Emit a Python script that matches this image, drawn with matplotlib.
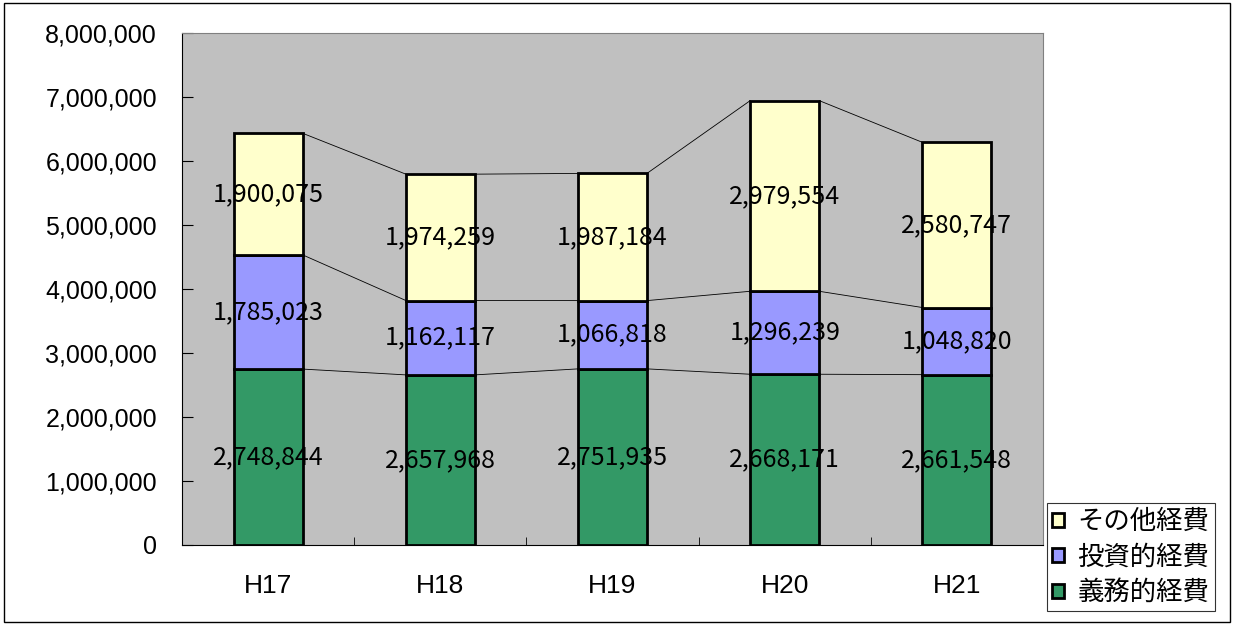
import numpy as np
import matplotlib.pyplot as plt
from matplotlib.patches import Rectangle
from matplotlib.ticker import FuncFormatter, MultipleLocator

plt.rcParams['font.family'] = ['Noto Sans CJK JP', 'DejaVu Sans']

years = ['H17', 'H18', 'H19', 'H20', 'H21']
gimu = [2748844, 2657968, 2751935, 2668171, 2661548]      # 義務的経費
toshi = [1785023, 1162117, 1066818, 1296239, 1048820]     # 投資的経費
sonota = [1900075, 1974259, 1987184, 2979554, 2580747]    # その他経費

series = [('義務的経費', gimu, '#339966'),
          ('投資的経費', toshi, '#9999FF'),
          ('その他経費', sonota, '#FFFFCC')]

fig = plt.figure(figsize=(12.34, 6.25), dpi=100)
ax = fig.add_axes([182 / 1234, 80 / 625, 861 / 1234, 512 / 625])
ax.set_facecolor('#C0C0C0')

x = np.arange(len(years))
w = 0.4
bottom = np.zeros(len(years))
handles = []
for name, vals, col in series:
    vals = np.array(vals)
    bars = ax.bar(x, vals, w, bottom=bottom, color=col, edgecolor='black',
                  linewidth=2, zorder=3, label=name)
    handles.append(bars)
    top = bottom + vals
    # thin series lines joining the bar tops
    for i in range(len(x) - 1):
        ax.plot([x[i] + w / 2, x[i + 1] - w / 2], [top[i], top[i + 1]],
                color='black', linewidth=0.6, zorder=2)
    for i in range(len(x)):
        ax.text(x[i], bottom[i] + vals[i] / 2, f'{vals[i]:,}', ha='center',
                va='center', fontsize=18, zorder=4)
    bottom = top

ax.set_xlim(-0.5, len(years) - 0.5)
ax.set_ylim(0, 8000000)
ax.yaxis.set_major_locator(MultipleLocator(1000000))
ax.yaxis.set_major_formatter(FuncFormatter(lambda v, p: f'{int(v):,}'))
ax.set_xticks(x)
ax.set_xticklabels(years, family='Liberation Sans')
ax.set_xticks(np.arange(-0.5, len(years)), minor=True)
ax.tick_params(axis='x', which='major', length=0, pad=21, labelsize=19)
ax.tick_params(axis='x', which='minor', direction='in', length=6)
ax.tick_params(axis='y', direction='in', length=8, pad=18, labelsize=18)
plt.setp(ax.get_yticklabels(), family='Liberation Sans')

for side in ['top', 'right']:
    ax.spines[side].set_color('#808080')
for side in ['left', 'bottom']:
    ax.spines[side].set_color('black')

leg = ax.legend(handles[::-1], [s[0] for s in series][::-1],
                loc='upper left', bbox_to_anchor=(1047 / 1234, 1 - 503 / 625),
                bbox_transform=fig.transFigure, fontsize=19, frameon=True,
                fancybox=False, edgecolor='black', handlelength=0.45,
                handleheight=0.45, handletextpad=0.5, borderpad=0.2,
                labelspacing=0.32, borderaxespad=0)
leg.get_frame().set_linewidth(0.8)

fig.patches.append(Rectangle((0.003, 0.005), 0.994, 0.99, transform=fig.transFigure,
                             fill=False, edgecolor='black', linewidth=1))

fig.savefig('out.png', dpi=100)
